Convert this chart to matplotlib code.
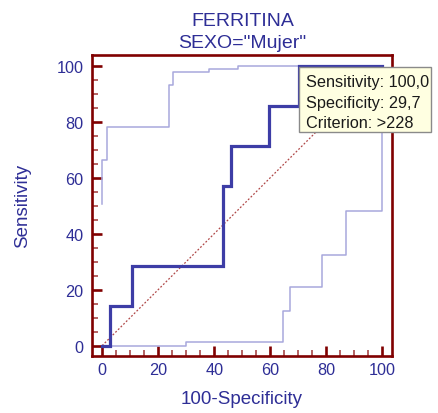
import matplotlib
matplotlib.use("Agg")
import matplotlib.pyplot as plt
from matplotlib.patches import Rectangle
from matplotlib.ticker import MultipleLocator

plt.rcParams['font.family'] = ['Liberation Sans', 'DejaVu Sans']

# ROC curve (step points, 100-Specificity vs Sensitivity)
roc_x = [0, 2.7, 2.7, 10.8, 10.8, 43.2, 43.2, 45.9, 45.9, 59.5, 59.5, 70.3, 70.3, 100]
roc_y = [0, 0, 14.3, 14.3, 28.6, 28.6, 57.1, 57.1, 71.4, 71.4, 85.7, 85.7, 100, 100]

# Upper confidence bound
upper_x = [0, 0, 1.9, 1.9, 23.8, 23.8, 25.4, 25.4, 38.2, 38.2, 48.6, 48.6, 100]
upper_y = [50.7, 66.4, 66.4, 78.0, 78.0, 93.2, 93.2, 97.7, 97.7, 98.9, 98.9, 99.8, 99.8]

# Lower confidence bound
lower_x = [0, 29.8, 29.8, 64.6, 64.6, 67.0, 67.0, 78.4, 78.4, 87.0, 87.0, 100, 100]
lower_y = [0, 0, 1.3, 1.3, 12.3, 12.3, 21.1, 21.1, 32.5, 32.5, 48.2, 48.2, 100]

title_lines = ["FERRITINA", 'SEXO="Mujer"']
tooltip_lines = ["Sensitivity: 100,0", "Specificity: 29,7", "Criterion: >228"]
ticks = [0, 20, 40, 60, 80, 100]

W, H = 439, 414
fig = plt.figure(figsize=(W / 100, H / 100), dpi=100)
ax = fig.add_axes([92 / W, 1 - 356.5 / H, 300 / W, 300.5 / H])

frame = '#800000'
text_col = '#2e2e96'

ax.plot([0, 100], [0, 100], color='#b04848', lw=0.9, ls=(0, (1.5, 1.5)), zorder=2)
ax.plot(upper_x, upper_y, color='#a8a8dc', lw=1.1, zorder=3)
ax.plot(lower_x, lower_y, color='#a8a8dc', lw=1.1, zorder=3)
ax.plot(roc_x, roc_y, color='#3d3da6', lw=2.3, zorder=4, solid_joinstyle='miter')

ax.set_xlim(-3.6, 103.4)
ax.set_ylim(-3.5, 103.8)
ax.set_xticks(ticks)
ax.set_yticks(ticks)
ax.xaxis.set_minor_locator(MultipleLocator(5))
ax.yaxis.set_minor_locator(MultipleLocator(5))

for s in ax.spines.values():
    s.set_color(frame)
    s.set_linewidth(1.9)

ax.tick_params(which='major', direction='in', length=7, width=1.9, color=frame,
               labelsize=11.7, labelcolor=text_col)
ax.tick_params(axis='x', which='major', pad=4.5)
ax.tick_params(axis='y', which='major', pad=6)
ax.tick_params(which='minor', direction='in', length=4.5, width=1.2, color='#a84848')

ax.set_xlabel("100-Specificity", fontsize=13.5, color=text_col, va='center')
ax.set_ylabel("Sensitivity", fontsize=13.5, color=text_col, va='center')
ax.xaxis.set_label_coords(0.5, (356.5 - 400) / 300.5)
ax.yaxis.set_label_coords((23 - 92) / 300, 0.5)

def fx(px):
    return px / W

def fy(py):
    return 1 - py / H

fig.text(fx(242.5), fy(26), title_lines[0], ha='center', va='baseline',
         fontsize=14, color=text_col)
fig.text(fx(242.5), fy(47.7), title_lines[1], ha='center', va='baseline',
         fontsize=14, color=text_col)

# Cursor tooltip box
box = Rectangle((fx(299), fy(133)), (431 - 299) / W, (133 - 68.3) / H,
                transform=fig.transFigure, facecolor='#ffffe1',
                edgecolor='#8a8a8a', lw=1.0, zorder=5)
fig.add_artist(box)
for i, line in enumerate(tooltip_lines):
    fig.text(fx(306), fy(87.5 + 20.5 * i), line, ha='left', va='baseline',
             fontsize=11.7, color='#1a1a1a', zorder=6)

fig.savefig("out.png", dpi=100)
